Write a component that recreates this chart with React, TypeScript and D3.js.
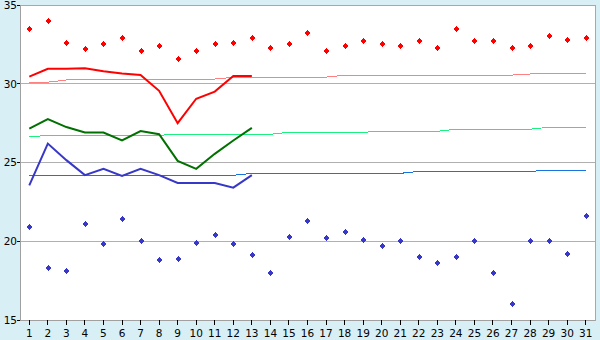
import React from "react";
import * as d3 from "d3";

const days = ["1","2","3","4","5","6","7","8","9","10","11","12","13","14","15","16","17","18","19","20","21","22","23","24","25","26","27","28","29","30","31"];
const yTicks = [15, 20, 25, 30, 35];
const gridValues = [20, 25, 30];

const maxDaily = [33.5,34.0,32.6,32.2,32.5,32.9,32.1,32.4,31.6,32.1,32.5,32.6,32.9,32.3,32.5,33.2,32.1,32.4,32.7,32.5,32.4,32.7,32.3,33.5,32.7,32.7,32.3,32.4,33.0,32.8,32.9];
const minDaily = [20.9,18.3,18.1,21.1,19.8,21.4,20.0,18.8,18.9,19.9,20.4,19.8,19.1,18.0,20.3,21.3,20.2,20.6,20.1,19.7,20.0,19.0,18.6,19.0,20.0,18.0,16.0,20.0,20.0,19.2,21.6];

const maxAvg = [30.45,30.95,30.95,30.98,30.8,30.65,30.55,29.55,27.5,29.05,29.5,30.5,30.5];
const meanAvg = [27.15,27.75,27.25,26.9,26.9,26.4,27.0,26.8,25.1,24.6,25.55,26.4,27.2];
const minAvg = [23.55,26.2,25.15,24.2,24.6,24.15,24.6,24.2,23.7,23.7,23.7,23.4,24.2];

const maxNormal = [30.09,30.1,30.24,30.24,30.24,30.25,30.29,30.29,30.29,30.29,30.3,30.41,30.41,30.41,30.41,30.41,30.42,30.54,30.54,30.54,30.54,30.54,30.54,30.54,30.54,30.54,30.55,30.62,30.62,30.62,30.62];
const meanNormal = [26.62,26.73,26.73,26.73,26.73,26.73,26.73,26.73,26.79,26.79,26.79,26.79,26.79,26.79,26.92,26.92,26.92,26.92,26.92,26.98,26.98,26.98,26.98,27.11,27.11,27.11,27.11,27.11,27.24,27.24,27.24];
const minNormal = [24.19,24.19,24.19,24.19,24.19,24.19,24.19,24.19,24.19,24.19,24.19,24.19,24.31,24.31,24.31,24.31,24.31,24.31,24.31,24.31,24.31,24.44,24.44,24.44,24.44,24.44,24.44,24.44,24.5,24.5,24.5];

const W = 600, H = 340;
const L = 20, R = 595, T = 5, B = 320;

export default function App() {
  const x = d3.scaleBand<string>().domain(days).range([L, R]).padding(0);
  const cx = (i: number) => (x(days[i]) as number) + x.bandwidth() / 2;
  const y = d3.scaleLinear().domain([15, 35]).range([B, T]);
  const crisp = (v: number) => Math.floor(v) + 0.5;

  const line = (vals: number[]) =>
    d3.line<number>().x((_, i) => cx(i)).y((v) => y(v))(vals) || "";

  const marker = (i: number, v: number, color: string, key: string) => {
    const px = Math.round(cx(i));
    const py = Math.round(y(v));
    return (
      <g key={key} fill={color} shapeRendering="crispEdges">
        <rect x={px - 2} y={py - 1} width={5} height={2} />
        <rect x={px - 1} y={py - 2} width={3} height={4} />
        <rect x={px} y={py - 3} width={1} height={6} />
        <rect x={px - 3} y={py - 0} width={7} height={0} />
      </g>
    );
  };

  const font = "'DejaVu Sans', Verdana, sans-serif";

  return (
    <div style={{ position: "fixed", left: 0, top: 0, width: W, height: H }}>
      <svg width={W} height={H} style={{ display: "block" }}>
        <rect x={0} y={0} width={W} height={H} fill="#d9eff6" />
        <rect x={L} y={T} width={R - L} height={B - T} fill="#ffffff" />
        {gridValues.map((g) => (
          <line key={"g" + g} x1={L} x2={R} y1={crisp(y(g))} y2={crisp(y(g))} stroke="#b0b0b0" strokeWidth={1} shapeRendering="crispEdges" />
        ))}
        {/* normals */}
        <path d={line(maxNormal)} fill="none" stroke="#ff8080" strokeWidth={1} shapeRendering="crispEdges" />
        <path d={line(meanNormal)} fill="none" stroke="#1cf080" strokeWidth={1} shapeRendering="crispEdges" />
        <path d={line(minNormal)} fill="none" stroke="#1874e0" strokeWidth={1} shapeRendering="crispEdges" />
        {/* averages */}
        <path d={line(maxAvg)} fill="none" stroke="#ff0000" strokeWidth={2} />
        <path d={line(meanAvg)} fill="none" stroke="#007000" strokeWidth={2} />
        <path d={line(minAvg)} fill="none" stroke="#3737c8" strokeWidth={2} />
        {maxDaily.map((v, i) => marker(i, v, "#ff0000", "mx" + i))}
        {minDaily.map((v, i) => marker(i, v, "#3838c8", "mn" + i))}
        {/* border */}
        <rect x={L + 0.5} y={T + 0.5} width={R - L - 0.5} height={B - T} fill="none" stroke="#a8a8a8" strokeWidth={1} shapeRendering="crispEdges" />
        <line x1={L + 0.5} x2={L + 0.5} y1={T} y2={B + 1} stroke="#a0a0a0" strokeWidth={1.5} shapeRendering="crispEdges" />
        <line x1={L} x2={R} y1={B + 0.5} y2={B + 0.5} stroke="#a0a0a0" strokeWidth={1.5} shapeRendering="crispEdges" />
        {/* y axis */}
        {yTicks.map((t) => (
          <g key={"yt" + t}>
            <line x1={L - 3} x2={L} y1={crisp(y(t))} y2={crisp(y(t))} stroke="#000" strokeWidth={1} shapeRendering="crispEdges" />
            <text x={L - 3} y={y(t)} dy="0.36em" textAnchor="end" fontFamily={font} fontSize={10.5} fill="#000">{t}</text>
          </g>
        ))}
        {/* x axis */}
        {days.map((d, i) => (
          <g key={"xt" + d}>
            <line x1={crisp(cx(i))} x2={crisp(cx(i))} y1={B} y2={B + 5} stroke="#000" strokeWidth={1} shapeRendering="crispEdges" />
            <text x={cx(i)} y={B + 17} textAnchor="middle" fontFamily={font} fontSize={10.5} fill="#000">{d}</text>
          </g>
        ))}
      </svg>
    </div>
  );
}
